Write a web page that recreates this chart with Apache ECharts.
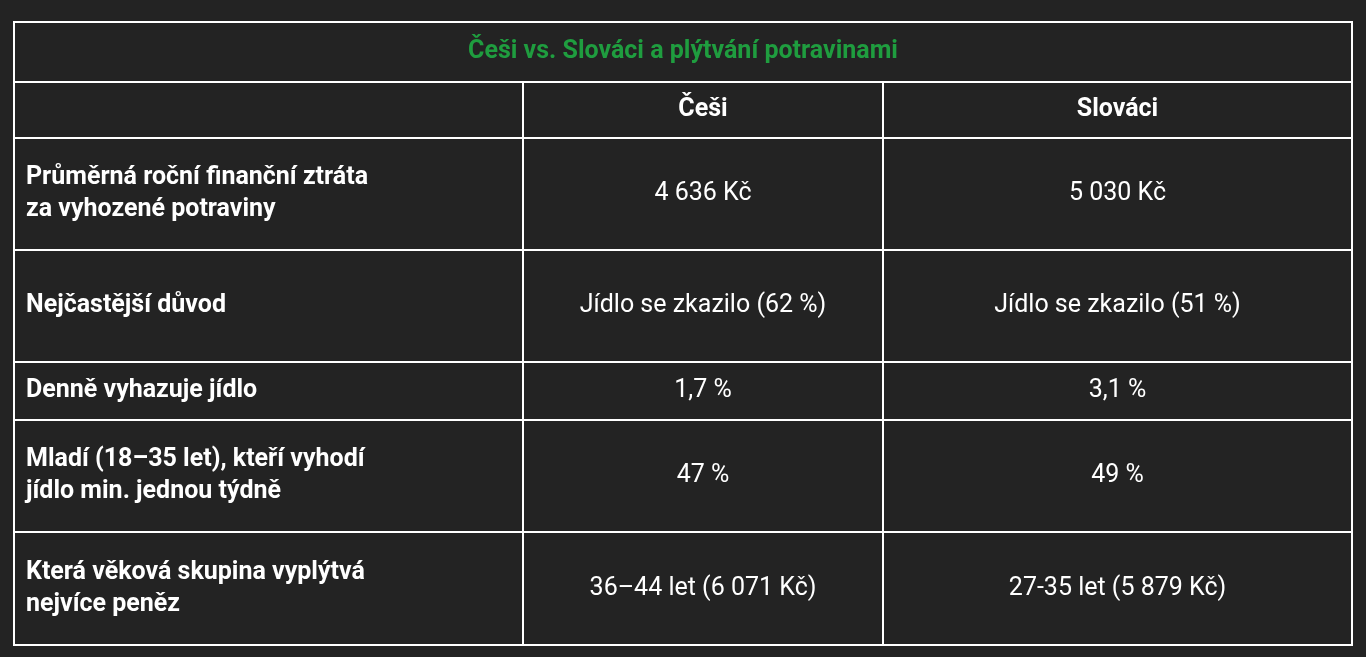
<!DOCTYPE html>
<html><head><meta charset="utf-8">
<script src="https://cdn.jsdelivr.net/npm/echarts@6/dist/echarts.min.js"></script>
<style>html,body{margin:0;padding:0;background:#232323}#c{width:1366px;height:657px}</style>
</head><body><div id="c"></div>
<script>
const title = 'Češi vs. Slováci a plýtvání potravinami';
const columns = ['', 'Češi', 'Slováci'];
const rowLabels = ['Průměrná roční finanční ztráta\nza vyhozené potraviny','Nejčastější důvod','Denně vyhazuje jídlo','Mladí (18–35 let), kteří vyhodí\njídlo min. jednou týdně','Která věková skupina vyplýtvá\nnejvíce peněz'];
const cesi = ['4 636 Kč','Jídlo se zkazilo (62 %)','1,7 %','47 %','36–44 let (6 071 Kč)'];
const slovaci = ['5 030 Kč','Jídlo se zkazilo (51 %)','3,1 %','49 %','27-35 let (5 879 Kč)'];
// layout edges (axis units)
const colEdges = [0,509,869,1338];
const rowEdges = [0,60,116,228,340,398,510,623];
const cells = [];
cells.push({value:[0,0,3], text:title, kind:'title'});
columns.forEach((c,i)=>cells.push({value:[i,1,1], text:c, kind:'head'}));
rowLabels.forEach((l,r)=>{
  cells.push({value:[0,r+2,1], text:l, kind:'label'});
  cells.push({value:[1,r+2,1], text:cesi[r], kind:'val'});
  cells.push({value:[2,r+2,1], text:slovaci[r], kind:'val'});
});
const chart = echarts.init(document.getElementById('c'));
chart.setOption({
  backgroundColor:'#232323',
  animation:false,
  grid:{left:14,right:14,top:22,bottom:12},
  xAxis:{type:'value',min:0,max:1338,show:false},
  yAxis:{type:'value',min:0,max:623,inverse:true,show:false},
  series:[{
    type:'custom',
    data:cells,
    renderItem:function(params,api){
      const d=cells[params.dataIndex];
      const c=api.value(0), r=api.value(1), span=api.value(2);
      const p0=api.coord([colEdges[c],rowEdges[r]]);
      const p1=api.coord([colEdges[c+span],rowEdges[r+1]]);
      const w=p1[0]-p0[0], h=p1[1]-p0[1];
      const style={text:d.text,fill:'#ffffff',fontFamily:'Roboto',fontSize:25,lineHeight:32,verticalAlign:'middle'};
      let tx=p0[0]+w/2, align='center';
      if(d.kind==='title'){style.fill='#1f9d3f';style.fontWeight='bold';}
      if(d.kind==='head'){style.fontWeight='bold';}
      if(d.kind==='label'){style.fontWeight='bold';tx=p0[0]+12;align='left';}
      style.align=align; style.x=tx; style.y=p0[1]+h/2;
      return {type:'group',children:[
        {type:'rect',shape:{x:p0[0],y:p0[1],width:w,height:h},style:{fill:'#232323',stroke:'#ffffff',lineWidth:2}},
        {type:'text',style:style}
      ]};
    }
  }]
});
</script></body></html>
